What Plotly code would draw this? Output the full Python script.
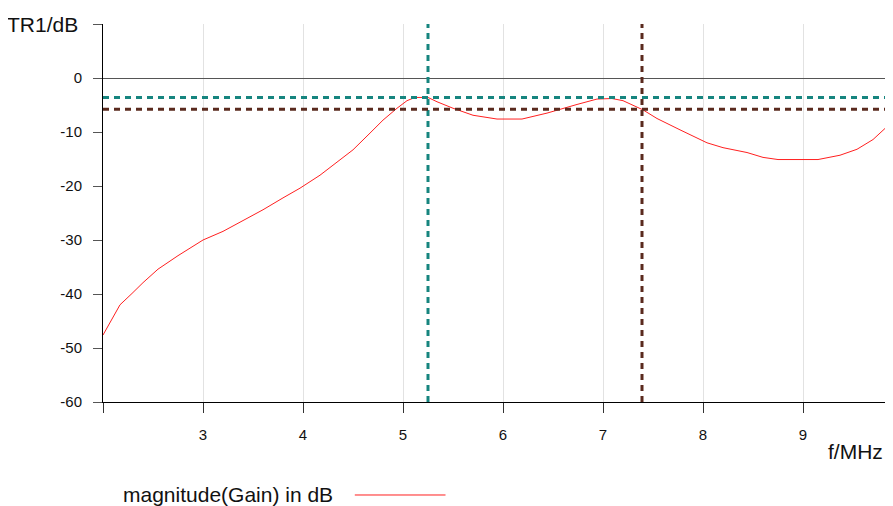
import plotly.graph_objects as go

# ---- data ----
freq_mhz = [2.0, 2.04, 2.1, 2.17, 2.29, 2.4, 2.55, 2.75, 2.94, 3.0, 3.2, 3.34,
            3.5, 3.6, 3.8, 3.97, 4.17, 4.3, 4.5, 4.67, 4.8, 4.94, 5.04, 5.12, 5.25, 5.34,
            5.5, 5.7, 5.94, 6.19, 6.44, 6.74, 6.94, 7.09, 7.2, 7.4, 7.54, 7.77,
            8.04, 8.2, 8.44, 8.6, 8.75, 9.15, 9.37, 9.54, 9.7, 9.84, 9.9]
gain_db = [-47.6, -46.3, -44.2, -42.0, -39.9, -37.9, -35.4, -32.9, -30.7, -30.0,
           -28.4, -27.0, -25.5, -24.4, -22.2, -20.4, -18.0, -16.1, -13.3, -10.2, -7.8, -5.6,
           -4.2, -3.6, -3.6, -4.4, -5.6, -6.9, -7.6, -7.6, -6.5, -4.9, -3.9, -3.8, -4.2, -5.9,
           -7.5, -9.6, -12.0, -12.9, -13.8, -14.7, -15.1, -15.1, -14.3, -13.2, -11.4, -9.0, -8.5]

marker_freqs = [5.25, 7.39]
marker_levels = [-3.6, -5.8]
marker_colors = ["#16857f", "#5a2a1e"]

x_tickvals = [2, 3, 4, 5, 6, 7, 8, 9]
x_ticktext = ["", "3", "4", "5", "6", "7", "8", "9"]
y_tickvals = [-60, -50, -40, -30, -20, -10, 0, 10]
y_ticktext = ["-60", "-50", "-40", "-30", "-20", "-10", "0", ""]

legend_label = "magnitude(Gain) in dB"
font_family = "Arial, Liberation Sans, sans-serif"

fig = go.Figure()
fig.add_trace(go.Scatter(x=freq_mhz, y=gain_db, mode="lines",
                         line=dict(color="#ff2020", width=1), showlegend=False,
                         name=legend_label))

shapes = []
for f, lvl, c in zip(marker_freqs, marker_levels, marker_colors):
    shapes.append(dict(type="line", xref="x", yref="paper", x0=f, x1=f, y0=0, y1=1,
                       line=dict(color=c, width=3, dash="6px,5px"), layer="above"))
    shapes.append(dict(type="line", xref="paper", yref="y", x0=0, x1=1, y0=lvl, y1=lvl,
                       line=dict(color=c, width=3, dash="6px,5px"), layer="above"))
# legend sample line (plot area is 782 px wide)
shapes.append(dict(type="line", xref="paper", yref="paper", x0=0.322, x1=0.438,
                   y0=-0.246, y1=-0.246, line=dict(color="#ff2020", width=1)))

fig.update_layout(
    width=877, height=498,
    margin=dict(l=95, r=0, t=16, b=104),
    paper_bgcolor="white", plot_bgcolor="white",
    font=dict(family=font_family, size=15, color="#111"),
    shapes=shapes,
    annotations=[
        dict(text="TR1/dB", xref="paper", yref="y", x=-0.029, y=10, xanchor="right",
             yanchor="middle", showarrow=False, font=dict(size=21, color="#111")),
        dict(text="f/MHz", xref="paper", yref="paper", x=1.0, y=-0.132, xanchor="right",
             yanchor="middle", showarrow=False, font=dict(size=21, color="#111")),
        dict(text=legend_label, xref="paper", yref="paper", x=0.023, y=-0.246, xanchor="left",
             yanchor="middle", showarrow=False, font=dict(size=21, color="#111")),
    ],
)
fig.update_xaxes(range=[2, 9.82], tickvals=x_tickvals, ticktext=x_ticktext,
                 showgrid=True, gridcolor="#e2e2e2", gridwidth=1,
                 showline=True, linecolor="black", linewidth=1,
                 ticks="outside", ticklen=10, tickcolor="#333", ticklabelstandoff=9,
                 zeroline=False)
fig.update_yaxes(range=[-60, 10], tickvals=y_tickvals, ticktext=y_ticktext,
                 showgrid=False, showline=True, linecolor="black", linewidth=1,
                 ticks="outside", ticklen=9, tickcolor="#555", ticklabelstandoff=8,
                 zeroline=True, zerolinecolor="#555", zerolinewidth=1)

fig.write_html("out.html")
